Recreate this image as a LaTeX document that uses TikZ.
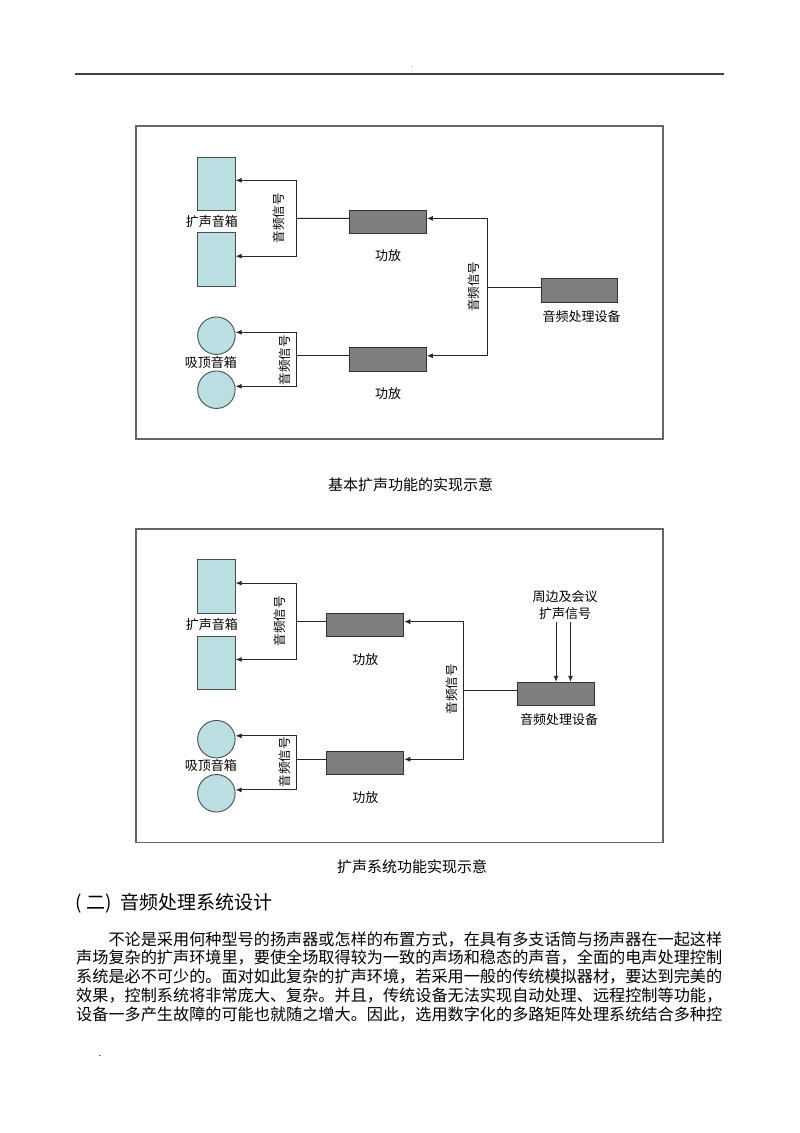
\documentclass[tikz,border=0pt]{standalone}
\usepackage{fontspec}
\setmainfont{Noto Sans CJK SC}
\usetikzlibrary{positioning,arrows.meta}
\definecolor{spkblue}{HTML}{BADEE2}
\definecolor{ampgray}{HTML}{7E7E7E}

\begin{document}
\begin{tikzpicture}[x=1pt,y=-1pt,>={Latex[length=6pt,width=5pt]},
   every node/.style={inner sep=0pt},
   lbl/.style={font=\fontsize{13}{15}\selectfont,text height=11.4pt,text depth=1.6pt},
   vlbl/.style={font=\fontsize{12.5}{14}\selectfont,rotate=90,text height=11pt,text depth=1.5pt},
   captxt/.style={font=\fontsize{15}{17}\selectfont,text height=13.2pt,text depth=1.8pt},
   para/.style={font=\fontsize{16.15}{18}\selectfont,anchor=west,text height=14.2pt,text depth=1.95pt},
   ampbox/.style={draw=black!80,line width=0.9pt,fill=ampgray,minimum width=77pt,minimum height=23.5pt},
   spkbox/.style={draw=black!70,line width=0.9pt,fill=spkblue,minimum width=37.6pt,minimum height=53.5pt},
   spkround/.style={circle,draw=black!70,line width=0.9pt,fill=spkblue,minimum size=37.5pt},
   wire/.style={line width=0.9pt,black!85},
   framebox/.style={line width=1.5pt,black!60},
   lift/.style={yshift=3.4pt}]
  \useasboundingbox[fill=white] (0,0) rectangle (800,1133);

  % page head
  \draw[line width=1.3pt,black!75] (75,74) -- (724,74);
  \node[font=\fontsize{7}{8}\selectfont] (headdot) at (412,67) {.};

  % first diagram
  \draw[framebox] (136,126) rectangle (663,439);
  \node[spkbox] (spkA1) at (216.4,183.7) {};
  \node[spkbox] (spkA2) at (216.4,259.6) {};
  \node[spkround] (cirA1) at (216.4,335.7) {};
  \node[spkround] (cirA2) at (216.4,389.7) {};
  \node[ampbox] (ampA1) at (388,221.8) {};
  \node[ampbox] (ampA2) at (388,359.2) {};
  \node[ampbox,minimum width=76pt] (procA) at (579,290.5) {};
  \node[lbl,below=3.5pt of spkA1,xshift=-4.5pt] (spkAtxt) {扩声音箱};
  \node[lbl,below=0.5pt of cirA1,xshift=-5.5pt] (cirAtxt) {吸顶音箱};
  \node[lbl,below=14.5pt of ampA1] (ampA1txt) {功放};
  \node[lbl,below=15.5pt of ampA2] (ampA2txt) {功放};
  \node[lbl,below=7pt of procA,xshift=2.5pt] (procAtxt) {音频处理设备};
  \coordinate (jA) at (487.6,287.1);
  \coordinate (jB) at (296.5,218.4);
  \coordinate (jC) at (296.5,355.8);
  \draw[wire] ([lift]procA.west) -- (jA);
  \draw[wire,->] (jA) |- ([lift]ampA1.east);
  \draw[wire,->] (jA) |- ([lift]ampA2.east);
  \draw[wire] ([lift]ampA1.west) -- (jB);
  \draw[wire,->] (jB) |- ([lift]spkA1.east);
  \draw[wire,->] (jB) |- ([lift]spkA2.east);
  \draw[wire] ([lift]ampA2.west) -- (jC);
  \draw[wire,->] (jC) |- ([lift]cirA1.east);
  \draw[wire,->] (jC) |- ([lift]cirA2.east);
  \node[vlbl] (sigA1) at (279,218) {音频信号};
  \node[vlbl] (sigA2) at (285,360) {音频信号};
  \node[vlbl] (sigA3) at (474,286.5) {音频信号};
  \node[captxt] (capA) at (410.5,485) {基本扩声功能的实现示意};

  % second diagram
  \draw[framebox] (136,529) rectangle (663,842.5);
  \node[spkbox] (spkB1) at (216.4,586.5) {};
  \node[spkbox] (spkB2) at (216.4,662.9) {};
  \node[spkround] (cirB1) at (216.4,739.2) {};
  \node[spkround] (cirB2) at (216.4,793.3) {};
  \node[ampbox] (ampB1) at (365.3,625) {};
  \node[ampbox] (ampB2) at (365.3,762.7) {};
  \node[ampbox] (procB) at (556,694) {};
  \node[lbl,below=4pt of spkB1,xshift=-4.5pt] (spkBtxt) {扩声音箱};
  \node[lbl,below=0pt of cirB1,xshift=-5.5pt] (cirBtxt) {吸顶音箱};
  \node[lbl,below=15.5pt of ampB1] (ampB1txt) {功放};
  \node[lbl,below=15.5pt of ampB2] (ampB2txt) {功放};
  \node[lbl,below=7pt of procB,xshift=3pt] (procBtxt) {音频处理设备};
  \node[lbl] (extB1) at (565,596.7) {周边及会议};
  \node[lbl,below=3pt of extB1] (extB2) {扩声信号};
  \coordinate[below=2.5pt of extB2,xshift=-9pt] (inB1);
  \coordinate[below=2.5pt of extB2,xshift=5.5pt] (inB2);
  \draw[wire,->] (inB1) -- (inB1 |- procB.north);
  \draw[wire,->] (inB2) -- (inB2 |- procB.north);
  \coordinate (jD) at (463.8,690.6);
  \coordinate (jE) at (296.5,621.6);
  \coordinate (jF) at (296.5,759.3);
  \draw[wire] ([lift]procB.west) -- (jD);
  \draw[wire,->] (jD) |- ([lift]ampB1.east);
  \draw[wire,->] (jD) |- ([lift]ampB2.east);
  \draw[wire] ([lift]ampB1.west) -- (jE);
  \draw[wire,->] (jE) |- ([lift]spkB1.east);
  \draw[wire,->] (jE) |- ([lift]spkB2.east);
  \draw[wire] ([lift]ampB2.west) -- (jF);
  \draw[wire,->] (jF) |- ([lift]cirB1.east);
  \draw[wire,->] (jF) |- ([lift]cirB2.east);
  \node[vlbl] (sigB1) at (280,621) {音频信号};
  \node[vlbl] (sigB2) at (285,762) {音频信号};
  \node[vlbl] (sigB3) at (452,689) {音频信号};
  \node[captxt] (capB) at (412,866.7) {扩声系统功能实现示意};

  % text below
  \node[font=\fontsize{19}{21}\selectfont,anchor=west] (head) at (75,903) {(\hspace{5pt}二)\hspace{8.5pt}音频处理系统设计};
  \node[para] (line1) at (108.3,939) {不论是采用何种型号的扬声器或怎样的布置方式，在具有多支话筒与扬声器在一起这样};
  \node[para] (line2) at (76,957.7) {声场复杂的扩声环境里，要使全场取得较为一致的声场和稳态的声音，全面的电声处理控制};
  \node[para] (line3) at (76,976.7) {系统是必不可少的。面对如此复杂的扩声环境，若采用一般的传统模拟器材，要达到完美的};
  \node[para] (line4) at (76,995) {效果，控制系统将非常庞大、复杂。并且，传统设备无法实现自动处理、远程控制等功能，};
  \node[para] (line5) at (76,1014) {设备一多产生故障的可能也就随之增大。因此，选用数字化的多路矩阵处理系统结合多种控};
  \node[font=\fontsize{9}{10}\selectfont] (footdot) at (100,1056) {.};
\end{tikzpicture}
\end{document}
